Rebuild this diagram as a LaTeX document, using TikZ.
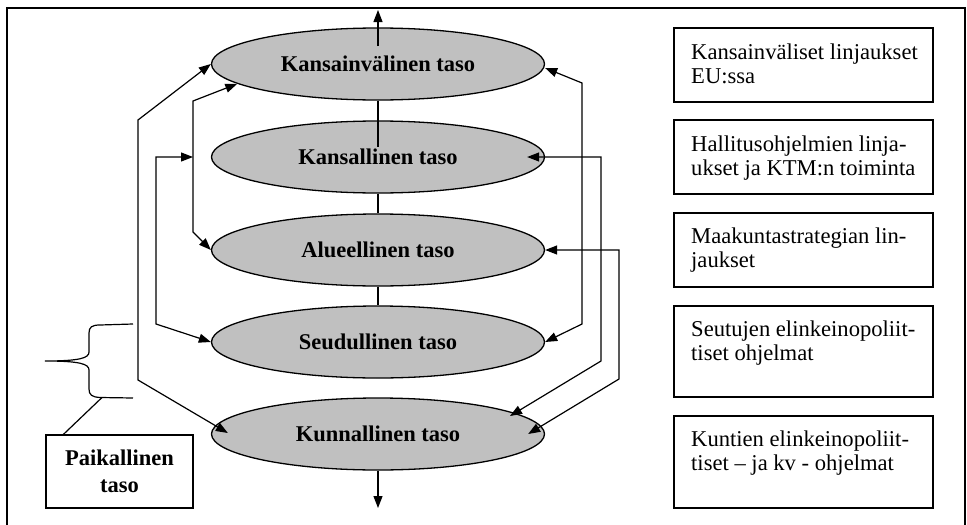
\documentclass[tikz,border=0pt]{standalone}
\usepackage{fontspec}
\setmainfont{Liberation Serif}
\usetikzlibrary{arrows.meta,shapes.geometric,calc}
\definecolor{levelgray}{RGB}{192,192,192}
\begin{document}
\begin{tikzpicture}[x=1pt,y=-1pt,
  >={Triangle[length=12pt,width=9pt]},
  level/.style={ellipse, draw, line width=1.3pt, fill=levelgray,
    minimum width=333pt, minimum height=72pt, inner sep=0pt,
    font=\fontsize{22.5}{25}\selectfont\bfseries},
  spine/.style={line width=1.2pt},
  link/.style={line width=1.2pt, <->},
  infobox/.style={draw, line width=1.2pt, minimum width=259pt, inner sep=0pt},
  infotext/.style={anchor=north west, inner sep=0pt, align=left,
    font=\fontsize{22.6}{23.5}\selectfont},
  localbox/.style={draw, line width=1.2pt, minimum width=147pt, minimum height=73pt,
    align=center, inner sep=0pt, font=\fontsize{22.5}{27}\selectfont\bfseries}
]
\useasboundingbox (0,0) rectangle (967,525);

% outer frame
\draw[line width=2pt] (7,530) -- (7,8) -- (965,8) -- (965,530);

% the five levels
\node[level] (e1) at (378,64)  {Kansainvälinen taso};
\node[level] (e2) at (378,157) {Kansallinen taso};
\node[level] (e3) at (378,250) {Alueellinen taso};
\node[level] (e4) at (378,342) {Seudullinen taso};
\node[level] (e5) at (378,434) {Kunnallinen taso};

% central spine
\coordinate (top) at (378,10);
\coordinate (bottom) at (378,508);
\draw[spine, ->] ($(e1.center)+(0,-18)$) -- (top);
\draw[spine] (e1.south) -- ($(e2.center)+(0,-10)$);
\draw[spine] (e2.south) -- (e3.north);
\draw[spine] (e3.south) -- (e4.north);
\draw[spine, ->] (e5.south) -- (bottom);

% left-hand links
\draw[link] (e1.west) -- (138,120) -- (138,380) -- ($(e5.west)+(17,-1)$);
\draw[link] (e1.188) -- (193,101) -- (193,232) -- (e3.west);
\coordinate (j2) at (193,157);
\draw[link] (j2) -- (156,157) -- (156,324) -- (e4.west);

% right-hand links
\draw[link] ($(e1.east)+(0,4)$) -- (582,83) -- (582,324) -- (e4.east);
\draw[link] ($(e2.east)+(-18,0)$) -- (601,157) -- (601,361) -- ($(e5.center)+(132,-18)$);
\draw[link] (e3.east) -- (619,250) -- (619,379) -- ($(e5.east)+(-17,0)$);

% policy boxes
\node[infobox, minimum height=74pt] (b1) at (803.5,65)  {};
\node[infobox, minimum height=74pt] (b2) at (803.5,157) {};
\node[infobox, minimum height=74pt] (b3) at (803.5,250) {};
\node[infobox, minimum height=91pt] (b4) at (803.5,351.5) {};
\node[infobox, minimum height=92pt] (b5) at (803.5,462) {};
\node[infotext] at (691,44)  {Kansainväliset linjaukset\\EU:ssa};
\node[infotext] at (691,136) {Hallitusohjelmien linja-\\ukset ja KTM:n toiminta};
\node[infotext] at (691,228) {Maakuntastrategian lin-\\jaukset};
\node[infotext] at (691,321) {Seutujen elinkeinopoliit-\\tiset ohjelmat};
\node[infotext] at (691,431) {Kuntien elinkeinopoliit-\\tiset – ja kv - ohjelmat};

% local level brace and label
\node[localbox] (paik) at (119.5,471.5) {Paikallinen\\taso};
\draw[line width=1.2pt] (133,324) -- (100,325) .. controls (92,325) and (89,327) .. (89,333)
  -- (89,352) .. controls (89,358) and (80,361) .. (45,361)
  .. controls (80,361) and (89,364) .. (89,370)
  -- (89,389) .. controls (89,395) and (92,397) .. (100,397.5) -- (133,398);
\coordinate (bk) at (102,397.5);
\draw[line width=1.2pt] (bk) -- ($(paik.north west)+(18,0)$);
\end{tikzpicture}
\end{document}
